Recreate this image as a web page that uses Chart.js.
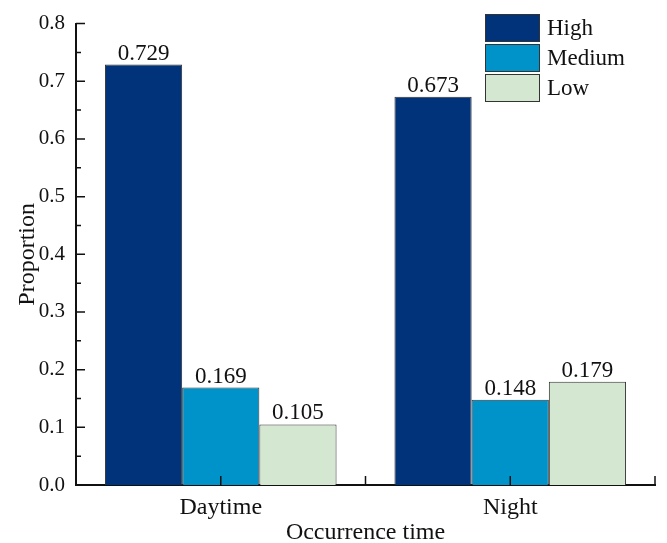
<!DOCTYPE html>
<html>
<head>
<meta charset="utf-8">
<script src="https://cdn.jsdelivr.net/npm/chart.js@4.4.1/dist/chart.umd.min.js"></script>
<style>
  html, body { margin: 0; padding: 0; background: #fff; }
  #wrap { width: 667px; height: 543px; }
</style>
</head>
<body>
<div id="wrap"><canvas id="chart" width="667" height="543"></canvas></div>
<script>
const categories = ['Daytime', 'Night'];
const highValues = [0.729, 0.673];
const mediumValues = [0.169, 0.148];
const lowValues = [0.105, 0.179];
const yTicks = [0, 0.1, 0.2, 0.3, 0.4, 0.5, 0.6, 0.7, 0.8];

const serif = "'Liberation Serif', 'Times New Roman', serif";

// ticks pointing into the plot, like the original (Origin style)
const inwardTicks = {
  id: 'inwardTicks',
  afterDraw(chart) {
    const { ctx, chartArea, scales } = chart;
    ctx.save();
    ctx.strokeStyle = '#111';
    ctx.lineWidth = 1.5;
    ctx.beginPath();
    for (let i = 0; i < yTicks.length; i++) {
      const y = scales.y.getPixelForValue(yTicks[i]);
      ctx.moveTo(chartArea.left, y);
      ctx.lineTo(chartArea.left + 9, y);
      if (i < yTicks.length - 1) {
        const ym = scales.y.getPixelForValue((yTicks[i] + yTicks[i + 1]) / 2);
        ctx.moveTo(chartArea.left, ym);
        ctx.lineTo(chartArea.left + 5, ym);
      }
    }
    const half = (scales.x.getPixelForValue(1) - scales.x.getPixelForValue(0)) / 2;
    categories.forEach((c, i) => {
      const x = scales.x.getPixelForValue(i);
      ctx.moveTo(x, chartArea.bottom);
      ctx.lineTo(x, chartArea.bottom - 9);
      ctx.moveTo(x + half, chartArea.bottom);
      ctx.lineTo(x + half, chartArea.bottom - 9);
    });
    ctx.stroke();
    ctx.restore();
  }
};

const valueLabels = {
  id: 'valueLabels',
  afterDatasetsDraw(chart) {
    const { ctx } = chart;
    ctx.save();
    ctx.font = '23px ' + serif;
    ctx.fillStyle = '#111';
    ctx.textAlign = 'center';
    ctx.textBaseline = 'alphabetic';
    chart.data.datasets.forEach((ds, di) => {
      chart.getDatasetMeta(di).data.forEach((bar, i) => {
        ctx.fillText(ds.data[i].toFixed(3), bar.x, bar.y - 5);
      });
    });
    ctx.restore();
  }
};

const boxLegend = {
  id: 'boxLegend',
  afterDraw(chart) {
    const { ctx, chartArea } = chart;
    const x0 = chartArea.right - 170;
    ctx.save();
    ctx.font = '23px ' + serif;
    ctx.textBaseline = 'alphabetic';
    chart.data.datasets.forEach((ds, i) => {
      const y = 14 + i * 30;
      ctx.fillStyle = ds.backgroundColor;
      ctx.fillRect(x0, y, 54, 27);
      ctx.strokeStyle = '#333';
      ctx.lineWidth = 1;
      ctx.strokeRect(x0 + 0.5, y + 0.5, 54, 27);
      ctx.fillStyle = '#111';
      ctx.fillText(ds.label, x0 + 62, y + 21);
    });
    ctx.restore();
  }
};

const chartEl = document.getElementById('chart');
const data = {
  labels: categories,
  datasets: [
    { label: 'High', data: highValues, backgroundColor: '#00337a' },
    { label: 'Medium', data: mediumValues, backgroundColor: '#0093c9' },
    { label: 'Low', data: lowValues, backgroundColor: '#d3e7d1' }
  ].map(ds => Object.assign(ds, { borderColor: '#333', borderWidth: 1, categoryPercentage: 0.8, barPercentage: 1.0 }))
};

const options = {
  responsive: false,
  animation: false,
  layout: { padding: { top: 18, right: 12, left: 0, bottom: 0 } },
  plugins: {
    legend: { display: false },
    tooltip: { enabled: false }
  },
  scales: {
    x: {
      grid: { display: false, drawTicks: false },
      border: { display: true, color: '#111', width: 2 },
      ticks: { color: '#111', font: { family: serif, size: 24 }, padding: 8 },
      title: { display: true, text: 'Occurrence time', color: '#111', font: { family: serif, size: 24 }, padding: { top: 0, bottom: -4 } },
      afterFit(scale) { scale.height = 58; }
    },
    y: {
      min: 0,
      max: 0.8,
      grid: { display: false, drawTicks: false },
      border: { display: true, color: '#111', width: 2 },
      ticks: { stepSize: 0.1, color: '#111', font: { family: serif, size: 21 }, padding: 11, callback: v => v.toFixed(1) },
      title: { display: true, text: 'Proportion', color: '#111', font: { family: serif, size: 24 }, padding: { top: 13, bottom: 0 } },
      afterFit(scale) { scale.width = 76; }
    }
  }
};

new Chart(chartEl, {
  type: 'bar',
  data,
  options,
  plugins: [inwardTicks, valueLabels, boxLegend]
});
</script>
</body>
</html>
